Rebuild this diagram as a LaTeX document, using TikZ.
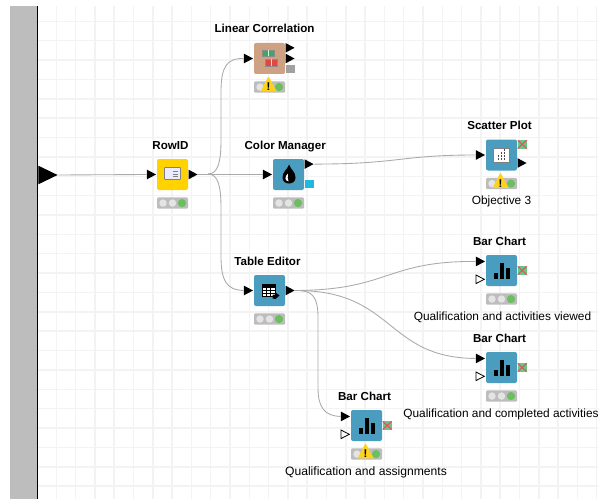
\documentclass[tikz,border=0pt]{standalone}
\usepackage{fontspec}
\setmainfont{Liberation Sans}
\usetikzlibrary{positioning,calc,shapes.geometric}
\definecolor{gridgray}{HTML}{F3F3F3}
\definecolor{bargray}{HTML}{BDBDBD}
\definecolor{wiregray}{HTML}{AAAAAA}
\definecolor{viewblue}{HTML}{4A9DBF}
\definecolor{rowyellow}{HTML}{FFD200}
\definecolor{corrtan}{HTML}{CFA183}
\definecolor{lampgreen}{HTML}{6CBF5F}
\definecolor{lampoff}{HTML}{E4E4E4}
\definecolor{warnyellow}{HTML}{FFD21E}
\definecolor{modelcyan}{HTML}{22B8DE}
\definecolor{crossred}{HTML}{E0585A}
\definecolor{crossgreen}{HTML}{62C98A}
\definecolor{corrgreen}{HTML}{3FA66B}
\definecolor{corrred}{HTML}{E04848}
\tikzset{
  block/.style={draw=none, fill=viewblue, rounded corners=1.5pt, minimum size=23.25pt, inner sep=0pt},
  title/.style={font=\fontsize{8.7}{10}\selectfont\bfseries, inner sep=0pt, text height=6.5pt, text depth=1.8pt, above=5.3pt of #1, xshift=-1.5pt},
  caption/.style={font=\fontsize{8.9}{10}\selectfont, inner sep=0pt},
  port/.style={isosceles triangle, isosceles triangle stretches, minimum height=6.8pt, minimum width=7.2pt, inner sep=0pt, fill=black},
  optport/.style={port, fill=white, draw=black, line width=.6pt, minimum height=6.2pt, minimum width=6.4pt},
  crossport/.style={minimum width=7pt, minimum height=6.4pt, inner sep=0pt, fill=crossgreen,
    path picture={\draw[crossred, line width=.9pt] (path picture bounding box.north west) -- (path picture bounding box.south east)
      (path picture bounding box.south west) -- (path picture bounding box.north east);}},
  squareport/.style={minimum width=6.8pt, minimum height=6pt, inner sep=0pt},
  light/.style={fill=bargray, rounded corners=.8pt, minimum width=23.25pt, minimum height=8.4pt, inner sep=0pt},
  lamp/.style={circle, fill=lampoff, minimum size=5.6pt, inner sep=0pt},
  warning/.style={isosceles triangle, isosceles triangle stretches, shape border rotate=90, fill=warnyellow,
    rounded corners=.6pt, minimum height=11.5pt, minimum width=12pt, inner sep=0pt},
  wire/.style={wiregray, line width=.65pt},
  gridline/.style={gridgray, line width=1.1pt}
}
\begin{document}
\begin{tikzpicture}[x=.75pt, y=-.75pt, node distance=5pt]
    \useasboundingbox (0,0) rectangle (598,499);
    \fill[white] (0,0) rectangle (598,499);
    % Editor grid
    \foreach \k in {1,...,29} {
        \draw[gridline] ({37+19.3*\k},6) -- ({37+19.3*\k},499);
    }
    \foreach \k in {0,...,24} {
        \draw[gridline] (37,{21.3+19.37*\k}) -- (598,{21.3+19.37*\k});
    }
    % Workflow input bar
    \fill[bargray] (10,6) rectangle (37,499);
    \draw[black, line width=.8pt] (37.5,6) -- (37.5,499);
    \node[port, minimum height=14.5pt, minimum width=14pt, anchor=west] (inbar) at (38,175) {};
    % Nodes
    \node[block, fill=rowyellow] (rowid) at (172.5,174.5) {};
    \node[block, fill=corrtan] (corr) at (269.5,58.5) {};
    \node[block] (color) at (288.5,174.5) {};
    \node[block] (editor) at (269.5,290.5) {};
    \node[block] (scatter) at (501.5,155) {};
    \node[block] (chartone) at (501.5,270.5) {};
    \node[block] (charttwo) at (501.5,367.5) {};
    \node[block] (chartthree) at (366.5,425.5) {};
    % Titles
    \node[title=rowid] (rowid-title) {RowID};
    \node[title=corr, xshift=-2.2pt] (corr-title) {Linear Correlation};
    \node[title=color, xshift=-1pt] (color-title) {Color Manager};
    \node[title=editor] (editor-title) {Table Editor};
    \node[title=scatter] (scatter-title) {Scatter Plot};
    \node[title=chartone] (chartone-title) {Bar Chart};
    \node[title=charttwo] (charttwo-title) {Bar Chart};
    \node[title=chartthree] (chartthree-title) {Bar Chart};
    % Captions
    \node[caption] (scatter-cap) at (501.5,201.5) {Objective 3};
    \node[caption] (chartone-cap) at (502.5,317.5) {Qualification and activities viewed};
    \node[caption] (charttwo-cap) at (501,414) {Qualification and completed activities};
    \node[caption, font=\fontsize{9.1}{10}\selectfont] (chartthree-cap) at (366,472) {Qualification and assignments};
    % Traffic lights
    \foreach \n in {rowid,corr,color,editor,scatter,chartone,charttwo,chartthree} {
        \node[light, below=5.2pt of \n] (\n-light) {};
        \node[lamp] (\n-lampa) at ($(\n-light)+(-9.5,0)$) {};
        \node[lamp] (\n-lampb) at ($(\n-light)+(0,0)$) {};
        \node[lamp, fill=lampgreen, minimum size=6.2pt] (\n-lampc) at ($(\n-light)+(9.5,0)$) {};
    }
    % Warnings
    \foreach \n in {corr,scatter,chartthree} {
        \node[warning] (\n-warn) at ($(\n-light)+(-1,-.5)$) {};
        \node[font=\fontsize{8.5}{8.5}\selectfont\bfseries, inner sep=0pt] (\n-mark) at ($(\n-light)+(-1,0)$) {!};
    }
    % Input ports
    \node[port, left=0pt of rowid.west] (rowid-in) {};
    \node[port, left=0pt of corr.west] (corr-in) {};
    \node[port, left=0pt of color.west] (color-in) {};
    \node[port, left=0pt of editor.west] (editor-in) {};
    \node[port, left=0pt of scatter.west] (scatter-in) {};
    \node[port, left=0pt of chartone.west, yshift=6.8pt] (chartone-in) {};
    \node[optport, left=.3pt of chartone.west, yshift=-6.6pt] (chartone-opt) {};
    \node[port, left=0pt of charttwo.west, yshift=6.8pt] (charttwo-in) {};
    \node[optport, left=.3pt of charttwo.west, yshift=-6.6pt] (charttwo-opt) {};
    \node[port, left=0pt of chartthree.west, yshift=6.8pt] (chartthree-in) {};
    \node[optport, left=.3pt of chartthree.west, yshift=-6.6pt] (chartthree-opt) {};
    % Output ports
    \node[port, right=0pt of rowid.east] (rowid-out) {};
    \node[port, right=0pt of corr.east, yshift=8pt] (corr-outa) {};
    \node[port, right=0pt of corr.east] (corr-outb) {};
    \node[squareport, fill=bargray!85!black, right=0pt of corr.east, yshift=-7.8pt] (corr-outc) {};
    \node[port, right=0pt of color.east, yshift=7.8pt] (color-out) {};
    \node[squareport, fill=modelcyan, right=0pt of color.east, yshift=-6.8pt] (color-model) {};
    \node[crossport, right=0pt of scatter.east, yshift=8pt] (scatter-view) {};
    \node[port, right=0pt of scatter.east, yshift=-6pt] (scatter-out) {};
    \node[port, right=0pt of editor.east] (editor-out) {};
    \node[crossport, right=0pt of chartone.east] (chartone-view) {};
    \node[crossport, right=0pt of charttwo.east] (charttwo-view) {};
    \node[crossport, right=0pt of chartthree.east] (chartthree-view) {};
    % Connectors
    \coordinate (split) at (208,174);
    \draw[wire] (inbar.east) -- (rowid-in.west);
    \draw[wire] (rowid-out.east) -- (color-in.west);
    \draw[wire] (split) .. controls (218,174) and (221,162) .. (221,140) -- (221,92) .. controls (221,68) and (226,58) .. (corr-in.west);
    \draw[wire] (split) .. controls (218,174) and (221,186) .. (221,208) -- (221,256) .. controls (221,280) and (226,290) .. (editor-in.west);
    \draw[wire] (color-out.east) .. controls (400,164) and (400,155) .. (scatter-in.west);
    \draw[wire] (editor-out.east) .. controls (390,290) and (385,261) .. (chartone-in.west);
    \draw[wire] (editor-out.east) .. controls (395,290) and (385,358) .. (charttwo-in.west);
    \draw[wire] (editor-out.east) .. controls (312,290) and (318,296) .. (318,318) -- (318,388) .. controls (318,408) and (325,416) .. (chartthree-in.west);
    % RowID icon
    \draw[gray, fill=white!92!blue, rounded corners=.5pt, line width=.6pt] ($(rowid)+(-8,-7)$) rectangle ($(rowid)+(8,5)$);
    \foreach \d in {-3,-.5,2} {
        \draw[gray, line width=.5pt] ($(rowid)+(0,\d)$) -- ($(rowid)+(5,\d)$);
    }
    % Correlation icon
    \draw[black!45, fill=corrgreen, line width=.4pt] ($(corr)+(-7.5,-8)$) rectangle ($(corr)+(4.5,-2)$);
    \draw[green!20, line width=.4pt] ($(corr)+(-1.5,-8)$) -- ($(corr)+(-1.5,-2)$);
    \draw[black!45, fill=corrred, line width=.4pt] ($(corr)+(-4.5,1)$) rectangle ($(corr)+(7.5,7.5)$);
    \draw[red!20, line width=.4pt] ($(corr)+(1.5,1)$) -- ($(corr)+(1.5,7.5)$);
    % Color drop icon
    \begin{scope}[shift={(color.center)}]
        \fill[black] (0.5,-10) .. controls (2,-5) and (7,-3) .. (7,3) .. controls (7,7) and (4,9) .. (0.5,9) .. controls (-3,9) and (-6,7) .. (-6,3) .. controls (-6,-3) and (-1,-5) .. (0.5,-10) -- cycle;
        \fill[white] (-.5,-1) .. controls (-4,2) and (-4,6) .. (0,7) .. controls (-1,5) and (-1,2) .. (-.5,-1) -- cycle;
    \end{scope}
    % Table editor icon
    \begin{scope}[shift={(editor.center)}]
        \draw[black, line width=.6pt, fill=white] (-7,-6) rectangle (6,6);
        \fill[black] (-7,-6) rectangle (6,-3);
        \foreach \d in {-3,1} {
            \draw[black, line width=.5pt] (\d,-6) -- (\d,6);
        }
        \foreach \d in {0,3} {
            \draw[black, line width=.5pt] (-7,\d) -- (6,\d);
        }
        \fill[black] (3,8) -- (3,4) -- (6,4) -- (6,2) -- (10,5) -- (6,8.5) -- cycle;
    \end{scope}
    % Scatter icon
    \begin{scope}[shift={(scatter.center)}]
        \draw[gray, fill=white, line width=.5pt] (-8,-7) rectangle (8,7);
        \foreach \x/\y in {-3/0,0/0,3/0,0/-3,3/-3,3/-6,-3/3,0/3,3/3} {
            \fill[black!70] (\x-.7,\y-.7+1) rectangle (\x+.7,\y+.7+1);
        }
    \end{scope}
    % Bar chart icons
    \foreach \n in {chartone,charttwo,chartthree} {
        \begin{scope}[shift={(\n.center)}]
            \fill[black] (-8,8) rectangle (-4,2.5);
            \fill[black] (-2,8) rectangle (2,-7.5);
            \fill[black] (4,8) rectangle (8,-2.5);
        \end{scope}
    }
\end{tikzpicture}
\end{document}
